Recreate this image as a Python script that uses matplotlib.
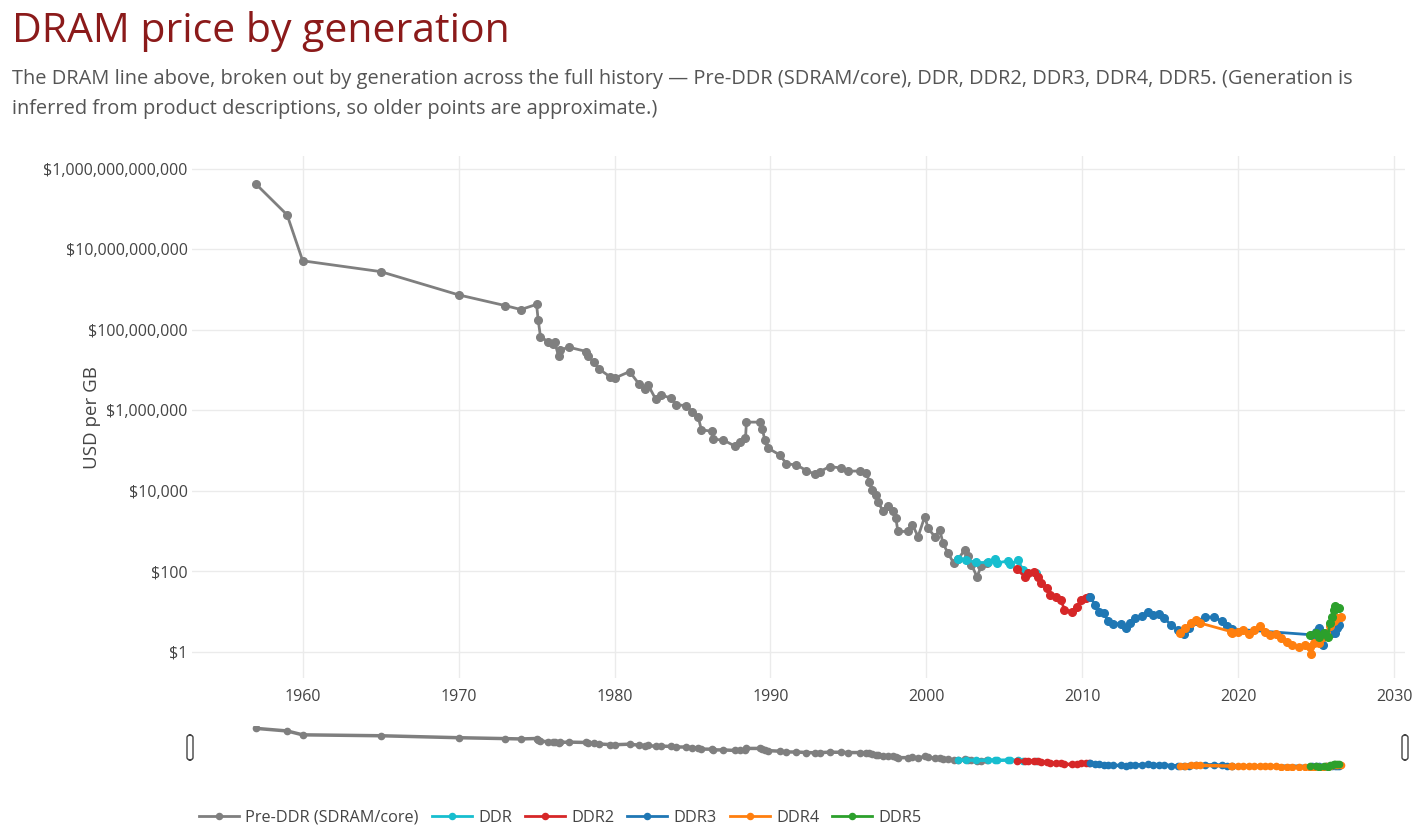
import numpy as np
import matplotlib.pyplot as plt
from matplotlib.ticker import FuncFormatter, FixedLocator
from matplotlib.patches import FancyBboxPatch

plt.rcParams['font.family'] = ['Open Sans', 'DejaVu Sans']

# --- datos (anio, USD por GB) ---
pre_x = [1957.0, 1959.0, 1960.0, 1965.0, 1970.0, 1973.0, 1974.0, 1975.0, 1975.1, 1975.25,
         1975.73, 1976.05, 1976.16, 1976.42, 1976.53, 1977.08, 1978.2, 1978.3, 1978.67, 1979.0,
         1979.74, 1980.0, 1980.97, 1981.57, 1981.94, 1982.15, 1982.64, 1983.0, 1983.65, 1983.97,
         1984.57, 1985.0, 1985.36, 1985.57, 1986.28, 1986.32, 1986.96, 1987.71, 1988.03, 1988.4,
         1988.46, 1989.36, 1989.49, 1989.63, 1989.85, 1990.6, 1991.03, 1991.67, 1992.31, 1992.84,
         1993.16, 1993.8, 1994.55, 1994.98, 1995.73, 1996.16, 1996.33, 1996.54, 1996.8, 1996.9,
         1997.22, 1997.54, 1997.86, 1998.04, 1998.18, 1998.83, 1999.11, 1999.47, 1999.9, 2000.11,
         2000.54, 2000.86, 2001.07, 2001.39, 2001.76, 2002.03, 2002.46, 2002.68, 2002.89, 2003.25,
         2003.53, 2003.86]
pre_y = [4.2e11, 7.2e10, 5.2e9, 2.8e9, 7.4e8, 4.0e8, 3.2e8, 4.3e8, 1.8e8, 6.8e7,
         5.1e7, 4.5e7, 4.9e7, 2.2e7, 3.2e7, 3.7e7, 2.9e7, 2.2e7, 1.6e7, 1.07e7,
         6.7e6, 6.3e6, 9.2e6, 4.5e6, 3.4e6, 4.3e6, 1.9e6, 2.4e6, 2.0e6, 1.37e6,
         1.32e6, 9.1e5, 7.0e5, 3.3e5, 3.0e5, 1.9e5, 1.85e5, 1.3e5, 1.67e5, 2.0e5,
         5.1e5, 5.1e5, 3.4e5, 1.85e5, 1.15e5, 7.8e4, 4.7e4, 4.4e4, 3.2e4, 2.6e4,
         3.0e4, 4.0e4, 3.7e4, 3.1e4, 3.1e4, 2.8e4, 1.7e4, 1.05e4, 7.9e3, 5.4e3,
         3.1e3, 4.1e3, 3.2e3, 2.1e3, 980, 980, 1430, 730, 2300, 1180,
         730, 1070, 500, 280, 160, 200, 340, 234, 145, 74,
         137, 160]

ddr_x = [2002.03, 2002.57, 2003.2, 2003.96, 2004.39, 2004.5, 2005.24, 2005.35, 2005.88, 2006.2, 2007.06]
ddr_y = [200, 193, 166, 166, 200, 160, 182, 154, 186, 109, 90]

ddr2_x = [2005.79, 2006.32, 2006.55, 2006.9, 2007.13, 2007.36, 2007.71, 2007.94, 2008.29, 2008.63,
          2008.86, 2009.33, 2009.67, 2009.9, 2010.26, 2010.42]
ddr2_y = [113, 74, 90, 99, 74, 51, 38, 26, 23, 19.6, 11, 10, 13.3, 19.6, 21.6, 22.9]

ddr3_x = [2010.48, 2010.83, 2011.06, 2011.41, 2011.64, 2011.99, 2012.46, 2012.8, 2013.03, 2013.38,
          2013.84, 2014.19, 2014.54, 2014.89, 2015.23, 2015.7, 2016.16, 2016.5, 2016.86, 2017.32,
          2017.9, 2018.47, 2018.94, 2019.29, 2019.63, 2024.72, 2024.96, 2025.19, 2025.43, 2025.65,
          2026.0, 2026.24, 2026.35, 2026.47]
ddr3_y = [23.7, 14.7, 10, 9.2, 5.7, 5.0, 5.0, 3.9, 5.2, 6.9,
          7.8, 9.5, 8.3, 8.8, 6.9, 4.7, 3.5, 2.8, 3.9, 5.7,
          7.3, 7.3, 5.7, 4.3, 3.7, 2.65, 3.2, 3.9, 1.5, 2.65,
          2.9, 2.9, 3.9, 4.7]

ddr4_x = [2016.27, 2016.62, 2016.97, 2017.32, 2017.55, 2019.52, 2019.63, 2019.98, 2020.33, 2020.68,
          2021.02, 2021.37, 2021.72, 2022.07, 2022.41, 2022.76, 2023.11, 2023.45, 2023.91, 2024.27,
          2024.61, 2024.68, 2024.84, 2025.19, 2025.43, 2025.65, 2025.88, 2026.12, 2026.35, 2026.58]
ddr4_y = [2.9, 3.9, 5.2, 6.2, 5.2, 3.2, 2.9, 3.2, 3.4, 2.8,
          3.5, 4.3, 3.2, 2.65, 2.8, 2.2, 1.8, 1.5, 1.3, 1.5,
          1.35, 0.89, 1.65, 1.7, 2.4, 2.9, 4.3, 5.7, 6.9, 7.5]

ddr5_x = [2024.61, 2024.96, 2025.19, 2025.53, 2025.76, 2025.88, 2026.0, 2026.12, 2026.24, 2026.35, 2026.47]
ddr5_y = [2.65, 2.9, 2.4, 2.9, 2.4, 5.2, 7.5, 11, 13.4, 12.2, 12.2]

series = [
    ('Pre-DDR (SDRAM/core)', pre_x, pre_y, '#7f7f7f'),
    ('DDR', ddr_x, ddr_y, '#17becf'),
    ('DDR2', ddr2_x, ddr2_y, '#d62728'),
    ('DDR3', ddr3_x, ddr3_y, '#1f77b4'),
    ('DDR4', ddr4_x, ddr4_y, '#ff7f0e'),
    ('DDR5', ddr5_x, ddr5_y, '#2ca02c'),
]

x_ticks = [1960, 1970, 1980, 1990, 2000, 2010, 2020, 2030]
y_ticks = [1, 1e2, 1e4, 1e6, 1e8, 1e10, 1e12]
xlim = (1952.9, 2030.7)
ylim = (10 ** -0.65, 10 ** 12.32)

W, H = 1415, 833
fig = plt.figure(figsize=(W / 100, H / 100), dpi=100)

# ejes principales
ax = fig.add_axes([192 / W, 1 - 678 / H, (1405 - 192) / W, (678 - 156) / H])
handles = []
for nombre, xs, ys, col in series:
    h, = ax.plot(xs, ys, '-o', color=col, lw=2, ms=5.5, label=nombre)
    handles.append(h)

ax.set_yscale('log')
ax.set_xlim(*xlim)
ax.set_ylim(*ylim)
ax.yaxis.set_major_locator(FixedLocator(y_ticks))
ax.yaxis.set_minor_locator(FixedLocator([]))
ax.yaxis.set_major_formatter(FuncFormatter(lambda v, p: f"${v:,.0f}"))
ax.set_xticks(x_ticks)
ax.grid(True, color='#ebebeb', lw=1)
ax.set_axisbelow(True)
for s in ax.spines.values():
    s.set_visible(False)
ax.tick_params(length=0, labelsize=11.5, labelcolor='#444444')
ax.tick_params(axis='x', pad=8)
ax.tick_params(axis='y', pad=3)
fig.text(92 / W, 1 - 418 / H, 'USD per GB', rotation=90, fontsize=13.5,
         color='#444444', ha='center', va='center')

# mini grafico del range slider
ax2 = fig.add_axes([192 / W, 1 - 770 / H, (1405 - 192) / W, 44 / H])
for nombre, xs, ys, col in series:
    ax2.plot(xs, ys, '-o', color=col, lw=2.5, ms=4.5)
ax2.set_yscale('log')
ax2.set_xlim(*xlim)
ax2.set_ylim(*ylim)
ax2.set_xticks([])
ax2.set_yticks([])
ax2.minorticks_off()
for s in ax2.spines.values():
    s.set_visible(False)

for hx in (190, 1405):
    fig.patches.append(FancyBboxPatch(((hx - 3) / W, 1 - 760 / H), 6 / W, 25 / H,
                                      boxstyle='round,pad=0,rounding_size=0.003',
                                      transform=fig.transFigure, fc='white',
                                      ec='#444444', lw=1))

# textos
fig.text(12 / W, 1 - 42 / H, 'DRAM price by generation', fontsize=29.5,
         color='#8b1a1a', va='baseline', ha='left')
fig.text(12 / W, 1 - 84 / H,
         'The DRAM line above, broken out by generation across the full history \u2014 '
         'Pre-DDR (SDRAM/core), DDR, DDR2, DDR3, DDR4, DDR5. (Generation is',
         fontsize=14.4, color='#555555', va='baseline', ha='left')
fig.text(12 / W, 1 - 114 / H,
         'inferred from product descriptions, so older points are approximate.)',
         fontsize=14.4, color='#555555', va='baseline', ha='left')

fig.legend(handles=handles, loc='center left', bbox_to_anchor=(199 / W, 1 - 818 / H),
           ncol=6, frameon=False, fontsize=11.7, labelcolor='#444444', markerscale=0.8,
           handlelength=2.45, columnspacing=0.8, handletextpad=0.4, borderaxespad=0,
           borderpad=0)

fig.savefig('out.png', dpi=100)
